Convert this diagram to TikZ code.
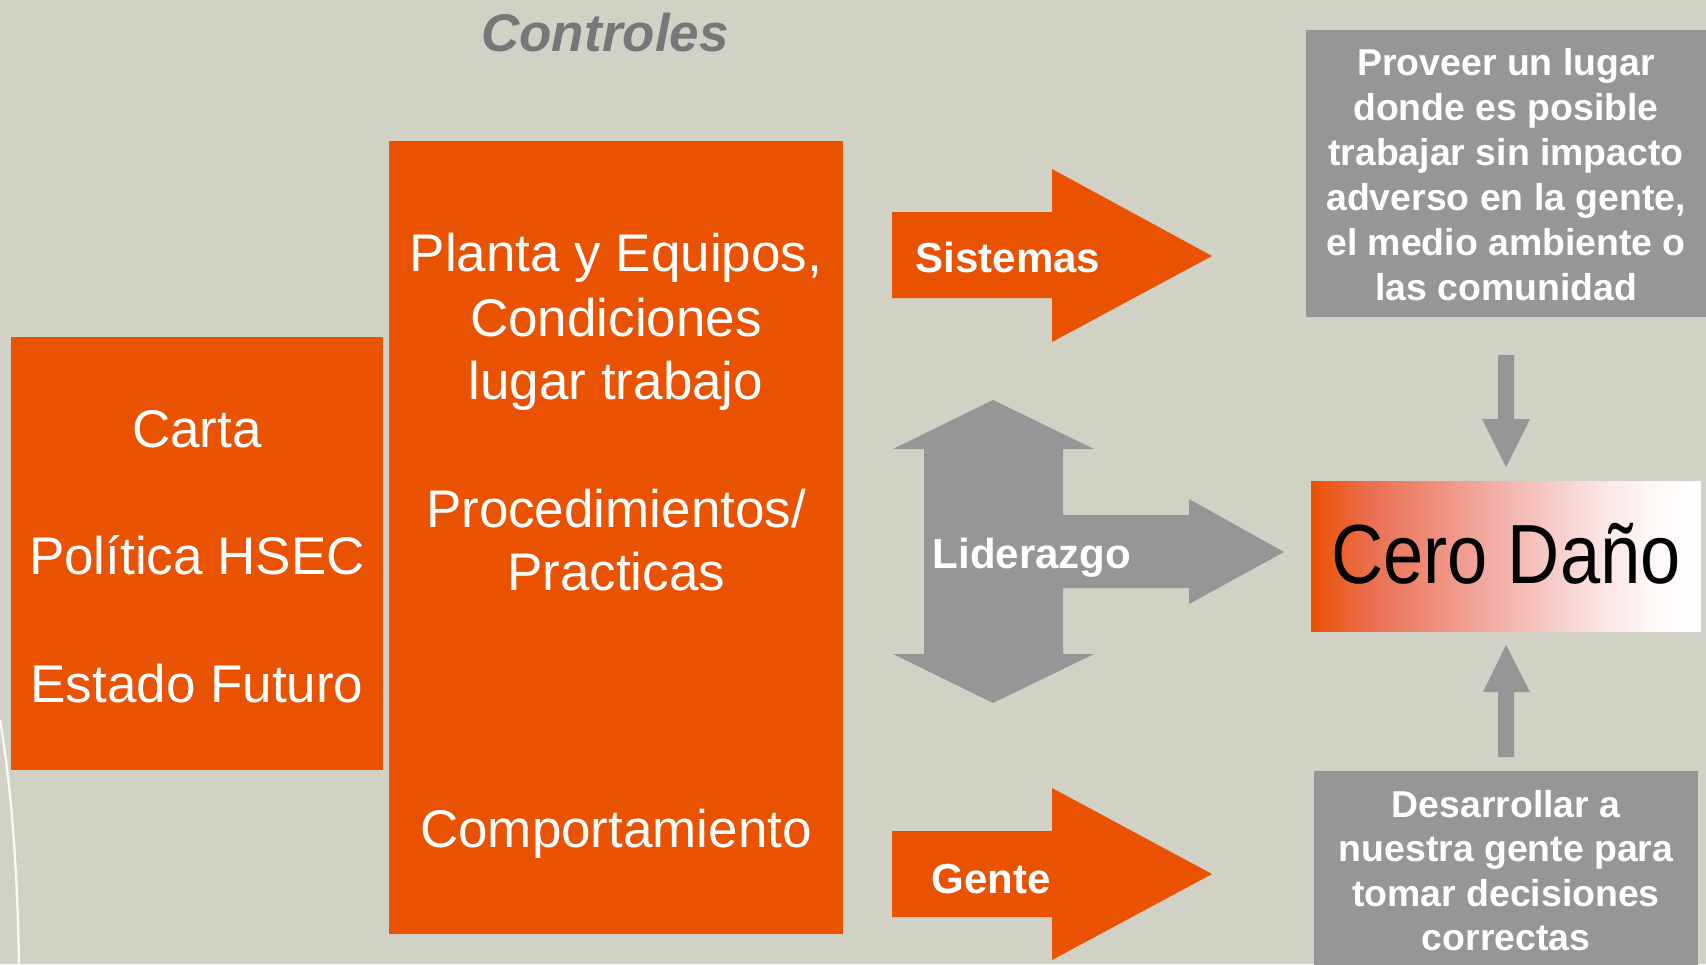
\documentclass[tikz,border=0pt]{standalone}
\usepackage{fontspec}
\setmainfont{Liberation Sans}
\newfontfamily\narrowfont[FakeStretch=0.86]{Liberation Sans}
\definecolor{bg}{RGB}{209,209,197}
\definecolor{org}{RGB}{233,82,0}
\definecolor{gry}{RGB}{150,150,150}
\definecolor{ttl}{RGB}{119,119,119}
\definecolor{g1}{RGB}{234,110,80}
\definecolor{g2}{RGB}{238,140,120}
\definecolor{g3}{RGB}{242,170,162}
\definecolor{g4}{RGB}{246,200,196}
\definecolor{g5}{RGB}{251,230,229}
\definecolor{g6}{RGB}{255,250,250}
\pgfdeclarehorizontalshading{cerograd}{100bp}{color(0bp)=(org); color(25bp)=(org); color(32.5bp)=(g1); color(40bp)=(g2); color(47.5bp)=(g3); color(55bp)=(g4); color(62.5bp)=(g5); color(70bp)=(g6); color(75bp)=(white); color(100bp)=(white)}
\tikzset{
  box/.style={inner sep=0pt, outer sep=0pt},
  bigtxt/.style={anchor=base, text=white, font=\fontsize{26.5}{31.8}\selectfont, inner sep=0pt},
  arrtxt/.style={anchor=base, text=white, font=\fontsize{21}{25}\selectfont\bfseries, inner sep=0pt},
  rtxt/.style={anchor=base, text=white, font=\fontsize{18.7}{22.4}\selectfont\bfseries, inner sep=0pt},
}
\begin{document}
\begin{tikzpicture}[x=0.5pt,y=-0.5pt]
\useasboundingbox (0,0) rectangle (1706,964);
\fill[bg] (0,0) rectangle (1706,964);
% decorative curve
\draw[white, opacity=0.85, line width=1.2pt] (0,720) .. controls (12,790) and (18,880) .. (19,970);
% title
\node[anchor=base, text=ttl, font=\fontsize{26.5}{30}\selectfont\bfseries\itshape, inner sep=0pt] (title) at (605,51) {Controles};
% left box
\node[box, fill=org, minimum width=186pt, minimum height=216.5pt] (left) at (197,553.5) {};
\node[bigtxt] (carta) at (197,447) {Carta};
\node[bigtxt] (pol) at (197,574) {Política HSEC};
\node[bigtxt] (est) at (197,702) {Estado Futuro};
% middle box
\node[box, fill=org, minimum width=227pt, minimum height=396.5pt] (mid) at (616,537.5) {};
\node[bigtxt] (m1) at (616,271) {Planta y Equipos,};
\node[bigtxt] (m2) at (616,336) {Condiciones};
\node[bigtxt] (m3) at (616,399) {lugar trabajo};
\node[bigtxt] (m4) at (616,527) {Procedimientos/};
\node[bigtxt] (m5) at (616,590) {Practicas};
\node[bigtxt] (m6) at (616,847) {Comportamiento};
% Sistemas arrow
\fill[org] (892,212) -- (1052,212) -- (1052,169) -- (1212,256) -- (1052,342) -- (1052,298) -- (892,298) -- cycle;
\node[arrtxt] (sis) at (1008,272) {Sistemas};
% Gente arrow
\fill[org] (892,831) -- (1052,831) -- (1052,788) -- (1212,874) -- (1052,960) -- (1052,917) -- (892,917) -- cycle;
\node[arrtxt] (gen) at (991,893) {Gente};
% Liderazgo arrow
\fill[gry] (993,400) -- (1094,449) -- (1063,449) -- (1063,515) -- (1189,515) -- (1189,499) -- (1284,552) -- (1189,604) -- (1189,588) -- (1063,588) -- (1063,654) -- (1094,654) -- (993,703) -- (893,654) -- (924,654) -- (924,449) -- (893,449) -- cycle;
\node[arrtxt] (lid) at (1032,568) {Liderazgo};
% top right box
\node[box, fill=gry, minimum width=200pt, minimum height=143.5pt] (tr) at (1506,173.5) {};
\node[rtxt] (t1) at (1506,75) {Proveer un lugar};
\node[rtxt] (t2) at (1506,120) {donde es posible};
\node[rtxt] (t3) at (1506,165) {trabajar sin impacto};
\node[rtxt] (t4) at (1506,210) {adverso en la gente,};
\node[rtxt] (t5) at (1506,255) {el medio ambiente o};
\node[rtxt] (t6) at (1506,300) {las comunidad};
% Cero Dano box
\node[box, shading=cerograd, minimum width=195pt, minimum height=75pt] (cero) at (1506,556) {};
\node[anchor=base, inner sep=0pt, text=black, font=\narrowfont\fontsize{42}{46}\selectfont] (cerotxt) at (1506,583) {Cero Daño};
% bottom right box
\node[box, fill=gry, minimum width=192pt, minimum height=104.5pt] (br) at (1506,875.5) {};
\node[rtxt] (b1) at (1506,817) {Desarrollar a};
\node[rtxt] (b2) at (1506,861) {nuestra gente para};
\node[rtxt] (b3) at (1506,906) {tomar decisiones};
\node[rtxt] (b4) at (1506,950) {correctas};
% down arrow
\fill[gry] (1498,355) -- (1514,355) -- (1514,419) -- (1530,419) -- (1506,467) -- (1482,419) -- (1498,419) -- cycle;
% up arrow
\fill[gry] (1498,757) -- (1498,692) -- (1483,692) -- (1506,645) -- (1530,692) -- (1514,692) -- (1514,757) -- cycle;
\end{tikzpicture}
\end{document}
